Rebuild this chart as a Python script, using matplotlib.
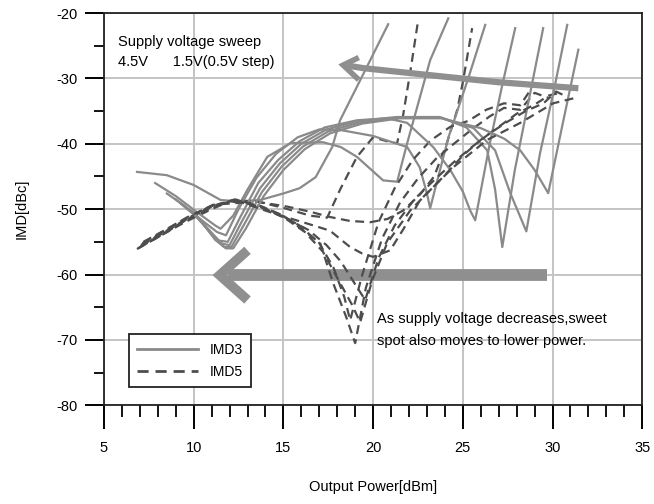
import numpy as np
import matplotlib.pyplot as plt
from matplotlib.lines import Line2D
from matplotlib.ticker import MultipleLocator

plt.rcParams['font.family'] = ['Liberation Sans', 'DejaVu Sans']
plt.rcParams['axes.unicode_minus'] = False

# IMD3 (solid) per supply voltage, 1.5V .. 4.5V
imd3_x = {
    '1.5V': [6.84, 8.5, 10.0, 11.5, 12.5, 13.7, 15.0, 15.9, 16.8, 17.72, 18.16, 19.84, 20.84],
    '2.0V': [7.85, 9.0, 10.2, 11.2, 11.5, 12.2, 13.0, 14.1, 15.4, 17.2, 18.2, 19.1, 20.56, 21.34, 21.9, 23.18, 24.19],
    '2.5V': [8.5, 9.5, 10.5, 11.3, 11.8, 12.5, 13.5, 14.6, 15.8, 17.0, 18.2, 20.0, 21.9, 22.6, 23.0, 23.18, 24.2, 25.3, 26.25],
    '3.0V': [9.0, 9.9, 10.8, 11.4, 11.9, 12.6, 13.6, 14.7, 15.9, 17.3, 19.1, 20.8, 21.9, 23.35, 24.3, 25.0, 25.41, 25.69, 26.5, 27.2, 27.92],
    '3.5V': [9.3, 10.1, 11.0, 11.6, 12.0, 12.7, 13.7, 14.8, 16.0, 17.4, 19.2, 21.3, 23.7, 25.2, 26.36, 26.8, 27.2, 27.9, 28.7, 29.48],
    '4.0V': [9.6, 10.3, 11.1, 11.7, 12.1, 12.8, 13.8, 14.9, 16.1, 17.5, 19.3, 21.4, 23.8, 25.6, 26.8, 27.64, 28.54, 29.3, 30.1, 30.82],
    '4.5V': [9.9, 10.5, 11.2, 11.8, 12.2, 12.9, 13.9, 15.0, 16.2, 17.6, 19.4, 21.5, 23.8, 26.0, 27.3, 28.2, 29.0, 29.76, 30.6, 31.44],
}
imd3_y = {
    '1.5V': [-44.3, -44.8, -46.3, -48.6, -48.8, -48.6, -47.6, -46.8, -45.1, -40.5, -36.4, -27.2, -21.7],
    '2.0V': [-46.0, -48.0, -50.5, -52.5, -53.0, -51.0, -47.0, -42.0, -39.9, -39.75, -40.5, -42.0, -45.6, -45.8, -39.9, -27.2, -20.8],
    '2.5V': [-47.6, -49.5, -51.8, -53.5, -54.0, -50.0, -45.2, -41.5, -39.0, -37.8, -37.9, -38.8, -40.5, -43.6, -47.6, -49.85, -39.0, -30.0, -21.8],
    '3.0V': [-48.5, -50.5, -53.0, -54.8, -55.0, -51.2, -46.0, -42.5, -39.6, -37.5, -36.4, -36.1, -36.8, -40.5, -44.0, -47.3, -50.2, -51.7, -40.0, -31.0, -22.3],
    '3.5V': [-49.2, -51.0, -53.8, -55.3, -55.5, -51.8, -46.8, -43.0, -40.0, -37.8, -36.5, -35.9, -35.9, -37.5, -41.0, -47.0, -55.8, -44.0, -33.0, -22.3],
    '4.0V': [-49.8, -51.5, -54.3, -55.8, -55.8, -52.4, -47.4, -43.5, -40.4, -38.1, -36.7, -36.0, -36.0, -37.6, -41.0, -47.5, -53.4, -41.5, -31.5, -21.8],
    '4.5V': [-50.3, -52.0, -54.7, -56.0, -56.0, -53.0, -48.0, -44.0, -40.8, -38.4, -36.9, -36.1, -36.1, -37.6, -39.2, -41.0, -44.0, -47.55, -36.5, -25.6],
}

# IMD5 (dashed) per supply voltage
imd5_x = {
    '1.5V': [6.84, 8.0, 9.5, 11.0, 12.0, 13.5, 15.0, 16.5, 17.44, 18.16, 19.1, 20.0, 20.95, 21.34, 21.68, 22.1, 22.51],
    '2.0V': [6.9, 8.0, 9.5, 11.0, 12.2, 13.6, 15.2, 16.5, 17.6, 18.7, 19.84, 20.8, 21.68, 22.6, 23.4, 24.1, 24.69, 25.02, 25.52],
    '2.5V': [7.0, 8.2, 9.6, 11.0, 12.3, 13.6, 14.8, 15.9, 17.0, 17.8, 18.4, 18.72, 19.4, 20.3, 21.2, 22.2, 23.2, 24.3, 25.3, 26.3, 27.3, 28.2, 28.76],
    '3.0V': [7.05, 8.2, 9.6, 11.0, 12.4, 13.8, 15.0, 16.0, 17.05, 17.77, 18.5, 19.0, 19.6, 20.5, 21.5, 22.5, 23.5, 24.5, 25.5, 26.5, 27.3, 28.2, 29.0, 29.8],
    '3.5V': [7.1, 8.3, 9.7, 11.1, 12.5, 13.9, 15.1, 16.2, 17.2, 18.0, 18.8, 19.28, 19.95, 20.78, 22.07, 23.0, 24.0, 25.0, 26.0, 27.0, 28.0, 29.0, 29.8, 30.43],
    '4.0V': [7.15, 8.3, 9.7, 11.1, 12.6, 14.0, 15.3, 16.4, 17.4, 18.2, 19.0, 19.56, 20.3, 21.2, 22.3, 23.5, 24.5, 25.5, 26.5, 27.5, 28.5, 29.5, 30.2, 30.8],
    '4.5V': [7.2, 8.4, 9.8, 11.2, 12.7, 14.2, 15.6, 16.8, 17.6, 18.72, 19.4, 20.0, 20.95, 21.7, 22.62, 24.46, 26.36, 28.2, 30.04, 31.38],
}
imd5_y = {
    '1.5V': [-56.1, -54.3, -52.0, -50.0, -48.8, -48.8, -49.8, -51.0, -51.3, -47.0, -42.0, -39.0, -39.75, -39.9, -35.5, -28.5, -21.1],
    '2.0V': [-56.0, -54.2, -51.8, -49.8, -48.6, -48.9, -49.6, -50.4, -51.2, -51.8, -52.0, -51.5, -50.2, -47.8, -45.0, -40.0, -34.8, -30.3, -22.3],
    '2.5V': [-55.8, -54.0, -51.6, -49.6, -48.5, -49.4, -50.8, -52.5, -55.2, -59.0, -63.5, -67.0, -60.0, -52.0, -46.8, -42.5, -39.5, -37.4, -36.5, -34.8, -33.8, -34.1, -31.8],
    '3.0V': [-55.6, -53.8, -51.5, -49.5, -48.6, -49.6, -51.0, -53.0, -55.2, -61.3, -66.5, -70.5, -62.0, -54.5, -49.0, -45.3, -42.3, -40.0, -37.8, -35.8, -34.5, -34.8, -32.2, -33.0],
    '3.5V': [-55.4, -53.6, -51.4, -49.4, -48.7, -49.8, -51.4, -53.5, -56.5, -60.5, -64.5, -67.3, -60.9, -55.2, -50.2, -47.6, -44.8, -41.8, -39.4, -37.4, -35.4, -34.0, -32.6, -32.2],
    '4.0V': [-55.2, -53.4, -51.2, -49.3, -48.8, -50.0, -51.6, -53.2, -55.5, -58.0, -61.5, -63.9, -57.5, -52.5, -48.5, -45.3, -42.8, -40.5, -38.4, -36.6, -35.0, -33.8, -32.0, -32.8],
    '4.5V': [-55.0, -53.2, -51.0, -49.3, -49.0, -50.4, -51.6, -52.6, -53.3, -55.8, -56.8, -57.3, -56.3, -53.0, -48.6, -43.6, -39.4, -36.8, -33.8, -32.9],
}
voltages = ['1.5V', '2.0V', '2.5V', '3.0V', '3.5V', '4.0V', '4.5V']

# annotation arrows (data units)
upper_arrow_x = [31.44, 26.92, 23.18, 19.45, 18.6]
upper_arrow_y = [-31.5, -30.56, -29.5, -28.42, -28.05]
upper_head = ([19.2, 18.33, 19.2], [-26.8, -27.96, -30.2])
lower_arrow_x = [29.71, 11.9]
lower_arrow_y = [-60.1, -60.1]
lower_head = ([13.0, 11.45, 13.0], [-56.3, -60.1, -63.9])

solid_c = '#8a8a8a'
dash_c = '#4d4d4d'
arrow_c = '#8f8f8f'

fig = plt.figure(figsize=(6.54, 5.04), dpi=100)
ax = fig.add_axes([0.159, 0.196, 0.823, 0.778])

ax.set_xlim(5, 35)
ax.set_ylim(-80, -20)
ax.xaxis.set_major_locator(MultipleLocator(5))
ax.xaxis.set_minor_locator(MultipleLocator(1))
ax.yaxis.set_major_locator(MultipleLocator(10))
ax.yaxis.set_minor_locator(MultipleLocator(5))
ax.grid(True, which='major', color='#c4c4c4', lw=1.4, zorder=0)
ax.tick_params(which='major', direction='out', width=1.4, labelsize=10.5)
ax.tick_params(axis='x', which='major', length=17, pad=9)
ax.tick_params(axis='y', which='major', length=14, pad=5)
ax.tick_params(axis='x', which='minor', direction='out', length=8.5, width=1.3)
ax.tick_params(axis='y', which='minor', direction='out', length=7, width=1.3)
for sp in ax.spines.values():
    sp.set_linewidth(1.3)
    sp.set_color('#222222')

# big arrows behind the curves
ax.plot(lower_arrow_x, lower_arrow_y, color=arrow_c, lw=8.5, solid_capstyle='butt', zorder=2)
ax.plot(*lower_head, color=arrow_c, lw=7, solid_joinstyle='miter', solid_capstyle='butt', zorder=2)
ax.plot(upper_arrow_x, upper_arrow_y, color=arrow_c, lw=4.5, solid_capstyle='butt', zorder=4)
ax.plot(*upper_head, color=arrow_c, lw=4, solid_joinstyle='miter', solid_capstyle='butt', zorder=4)

for v in voltages:
    ax.plot(imd3_x[v], imd3_y[v], color=solid_c, lw=1.6, zorder=3)
    ax.plot(imd5_x[v], imd5_y[v], color=dash_c, lw=1.6, ls=(0, (4, 2.5)), zorder=3)

ax.text(5.78, -24.4, 'Supply voltage sweep', fontsize=10.5, va='center', ha='left')
ax.text(5.78, -27.5, '4.5V      1.5V(0.5V step)', fontsize=10.5, va='center', ha='left')
ax.text(20.23, -66.8, 'As supply voltage decreases,sweet', fontsize=10.5, va='center', ha='left')
ax.text(20.23, -70.2, 'spot also moves to lower power.', fontsize=10.5, va='center', ha='left')

handles = [Line2D([], [], color=solid_c, lw=2.0),
           Line2D([], [], color=dash_c, lw=2.0, ls=(0, (4, 2.5)))]
leg = ax.legend(handles, ['IMD3', 'IMD5'], loc='lower left', bbox_to_anchor=(0.0465, 0.046),
                borderaxespad=0, fancybox=False, framealpha=1, edgecolor='#222222',
                handlelength=4.4, fontsize=10, borderpad=0.6, labelspacing=0.6)
leg.get_frame().set_linewidth(1.3)

ax.set_xlabel('Output Power[dBm]', fontsize=10.5, labelpad=18)
ax.set_ylabel('IMD[dBc]', fontsize=10.5, labelpad=20)

fig.savefig('out.png', dpi=100)
